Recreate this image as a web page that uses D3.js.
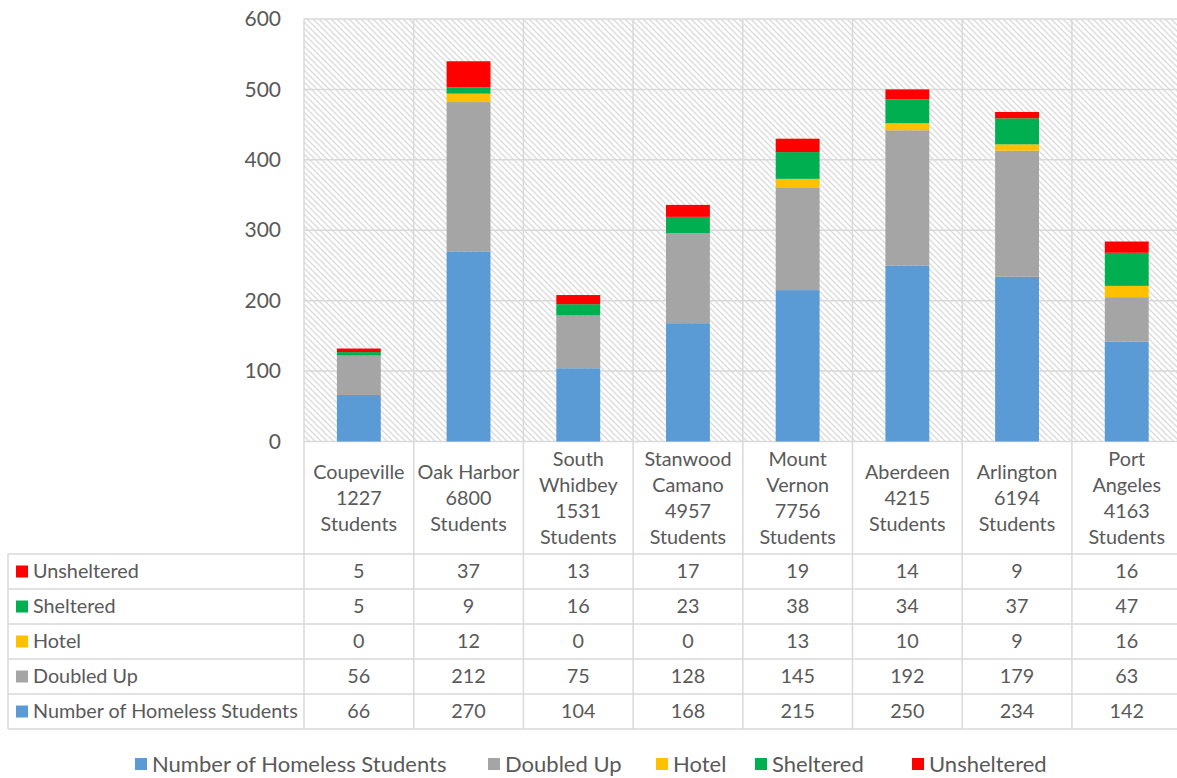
<!DOCTYPE html>
<html>
<head>
<meta charset="utf-8">
<script src="https://cdn.jsdelivr.net/npm/d3@7"></script>
<style>
  html, body { margin: 0; padding: 0; background: #fff; }
  svg { display: block; font-family: Lato, "Open Sans", sans-serif; }
</style>
</head>
<body>
<svg id="chart" width="1177" height="778"></svg>
<script>
// School districts (label lines for the header row of the data table)
const categories = [
  ["Coupeville", "1227", "Students"],
  ["Oak Harbor", "6800", "Students"],
  ["South", "Whidbey", "1531", "Students"],
  ["Stanwood", "Camano", "4957", "Students"],
  ["Mount", "Vernon", "7756", "Students"],
  ["Aberdeen", "4215", "Students"],
  ["Arlington", "6194", "Students"],
  ["Port", "Angeles", "4163", "Students"]
];

// Series, bottom of the stack first
const seriesNames = ["Number of Homeless Students", "Doubled Up", "Hotel", "Sheltered", "Unsheltered"];
const homeless    = [66, 270, 104, 168, 215, 250, 234, 142];
const doubledUp   = [56, 212, 75, 128, 145, 192, 179, 63];
const hotel       = [0, 12, 0, 0, 13, 10, 9, 16];
const sheltered   = [5, 9, 16, 23, 38, 34, 37, 47];
const unsheltered = [5, 37, 13, 17, 19, 14, 9, 16];
const yTicks      = [0, 100, 200, 300, 400, 500, 600];

const seriesValues = [homeless, doubledUp, hotel, sheltered, unsheltered];
const colors = ["#5b9bd5", "#a5a5a5", "#ffc000", "#00b050", "#ff0000"];
const textColor = "#595959";
const lineColor = "#d9d9d9";

const svg = d3.select("#chart");

// Plot geometry
const plotLeft = 304, cellW = 109.7;
const plotRight = plotLeft + cellW * categories.length;
const plotTop = 19, plotBottom = 441.5;
const headerBottom = 554, rowH = 35;
const tableLeft = 8;

const keys = categories.map((c, i) => i);
const xCell = d3.scaleBand().domain(keys).range([plotLeft, plotRight]).padding(0);
const xBar = d3.scaleBand().domain(keys).range([plotLeft, plotRight]).paddingInner(0.6).paddingOuter(0.3);
const y = d3.scaleLinear().domain([0, 600]).range([plotBottom, plotTop]);

// Hatched plot background
const defs = svg.append("defs");
const pat = defs.append("pattern")
  .attr("id", "hatch").attr("patternUnits", "userSpaceOnUse")
  .attr("width", 6).attr("height", 6);
pat.append("rect").attr("width", 6).attr("height", 6).attr("fill", "#fff");
pat.append("path").attr("d", "M-1,-1 L7,7 M-1,5 L1,7 M5,-1 L7,1")
  .attr("stroke", "#dcdcdc").attr("stroke-width", 1.4);

svg.append("rect")
  .attr("x", plotLeft).attr("y", plotTop)
  .attr("width", plotRight - plotLeft).attr("height", plotBottom - plotTop)
  .attr("fill", "url(#hatch)");

// Horizontal gridlines
svg.append("g").selectAll("line").data(yTicks).join("line")
  .attr("x1", plotLeft).attr("x2", plotRight)
  .attr("y1", d => y(d)).attr("y2", d => y(d))
  .attr("stroke", lineColor).attr("stroke-width", 1.5);

// Vertical lines between categories, through plot and header row
svg.append("g").selectAll("line").data(keys.concat([categories.length])).join("line")
  .attr("x1", d => d < categories.length ? xCell(d) : plotRight)
  .attr("x2", d => d < categories.length ? xCell(d) : plotRight)
  .attr("y1", plotTop).attr("y2", headerBottom + rowH * seriesNames.length)
  .attr("stroke", lineColor).attr("stroke-width", 1.5);

// Y axis labels
const yAxis = d3.axisLeft(y).tickValues(yTicks).tickSize(0).tickPadding(23);
const yg = svg.append("g").attr("transform", `translate(${plotLeft},0)`).call(yAxis);
yg.select(".domain").remove();
yg.selectAll("text").attr("fill", textColor).style("font-size", "21px")
  .style("font-family", "Lato, 'Open Sans', sans-serif");

// Stacked columns
const rows = keys.map(i => {
  const r = { i };
  seriesNames.forEach((s, k) => r[s] = seriesValues[k][i]);
  return r;
});
const stacked = d3.stack().keys(seriesNames)(rows);
svg.append("g").selectAll("g").data(stacked).join("g")
  .attr("fill", (d, k) => colors[k])
  .selectAll("rect").data(d => d).join("rect")
  .attr("x", d => xBar(d.data.i))
  .attr("width", xBar.bandwidth())
  .attr("y", d => y(d[1]))
  .attr("height", d => y(d[0]) - y(d[1]));

// Category header text
const header = svg.append("g").attr("fill", textColor)
  .style("font-size", "19.8px").attr("text-anchor", "middle");
const lineH = 26;
categories.forEach((lines, i) => {
  const cx = xCell(i) + xCell.bandwidth() / 2;
  const midY = (plotBottom + headerBottom) / 2;
  const startY = midY - (lines.length - 1) * lineH / 2;
  const t = header.append("text").attr("x", cx).attr("y", startY).attr("dy", "0.35em");
  lines.forEach((ln, j) => {
    t.append("tspan").attr("x", cx).attr("y", startY + j * lineH).attr("dy", "0.35em").text(ln);
  });
});

// Data table body: top row is the top of the stack
const tableSeries = seriesNames.map((s, k) => k).reverse();
const tableBottom = headerBottom + rowH * seriesNames.length;
const tg = svg.append("g");

// Row lines
tg.selectAll("line.h").data(d3.range(seriesNames.length + 1)).join("line")
  .attr("class", "h")
  .attr("x1", tableLeft).attr("x2", plotRight)
  .attr("y1", r => headerBottom + r * rowH).attr("y2", r => headerBottom + r * rowH)
  .attr("stroke", lineColor).attr("stroke-width", 1.5);
tg.append("line")
  .attr("x1", tableLeft).attr("x2", tableLeft)
  .attr("y1", headerBottom).attr("y2", tableBottom)
  .attr("stroke", lineColor).attr("stroke-width", 1.5);

tableSeries.forEach((k, r) => {
  const cy = headerBottom + r * rowH + rowH / 2;
  tg.append("rect").attr("x", 16).attr("y", cy - 6).attr("width", 12).attr("height", 12)
    .attr("fill", colors[k]);
  tg.append("text").attr("x", 33).attr("y", cy).attr("dy", "0.35em")
    .attr("fill", textColor).style("font-size", "19.8px").text(seriesNames[k]);
  tg.append("g").selectAll("text").data(seriesValues[k]).join("text")
    .attr("x", (d, i) => xCell(i) + xCell.bandwidth() / 2)
    .attr("y", cy).attr("dy", "0.35em").attr("text-anchor", "middle")
    .attr("fill", textColor).style("font-size", "19.8px")
    .text(d => d);
});

// Legend
const legendItems = seriesNames.map((s, k) => ({ name: s, color: colors[k] }));
const legendX = [135, 488, 656, 755, 912];
const lg = svg.append("g");
legendItems.forEach((it, k) => {
  lg.append("rect").attr("x", legendX[k]).attr("y", 758).attr("width", 12).attr("height", 12)
    .attr("fill", it.color);
  lg.append("text").attr("x", legendX[k] + 17).attr("y", 764).attr("dy", "0.35em")
    .attr("fill", textColor).style("font-size", "22px").text(it.name);
});
</script>
</body>
</html>
